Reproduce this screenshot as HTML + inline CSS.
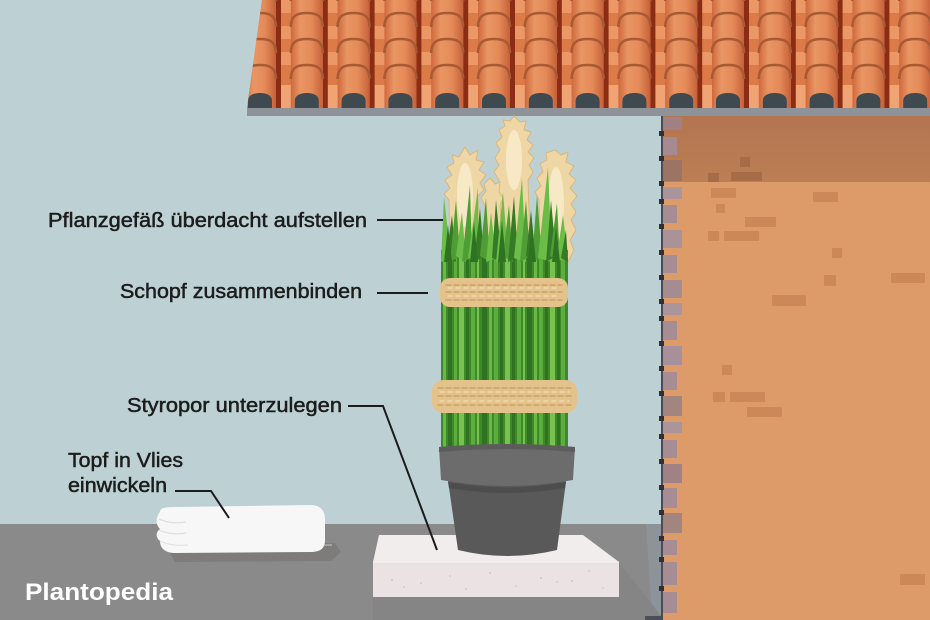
<!DOCTYPE html>
<html>
<head>
<meta charset="utf-8">
<style>
html,body{margin:0;padding:0;background:#bdd1d5;}
svg{display:block;}
.lbl{font-family:"Liberation Sans",Arial,sans-serif;font-size:20px;fill:#1c1c1c;stroke:#1c1c1c;stroke-width:0.5px;}
</style>
</head>
<body>
<svg width="930" height="620" viewBox="0 0 930 620" xmlns="http://www.w3.org/2000/svg">
<defs>
  <linearGradient id="capg" x1="0" y1="0" x2="1" y2="0">
    <stop offset="0" stop-color="#cf693d"/>
    <stop offset="0.3" stop-color="#e99664"/>
    <stop offset="0.65" stop-color="#e48a58"/>
    <stop offset="1" stop-color="#c6613a"/>
  </linearGradient>
  <linearGradient id="bandg" x1="0" y1="0" x2="0" y2="1">
    <stop offset="0" stop-color="#b37550"/>
    <stop offset="1" stop-color="#bc7e54"/>
  </linearGradient>
  <clipPath id="roofclip"><polygon points="262,0 930,0 930,108 247,108"/></clipPath>
  <g id="col">
    <rect x="16" y="-13" width="15" height="13" fill="#dc7b48"/>
    <rect x="16" y="0" width="15" height="13" fill="#eb9866"/>
    <rect x="16" y="13" width="15" height="13" fill="#dc7b48"/>
    <rect x="16" y="26" width="15" height="13" fill="#eb9866"/>
    <rect x="16" y="39" width="15" height="13" fill="#dc7b48"/>
    <rect x="16" y="52" width="15" height="13" fill="#eb9866"/>
    <rect x="16" y="65" width="15" height="20" fill="#dc7b48"/>
    <rect x="16" y="85" width="15" height="23" fill="#f0a474"/>
    <rect x="16" y="-13" width="5" height="121" fill="#8a2d14"/>
    <path d="M-16,1 C-16,-11 -9,-13 0,-13 C9,-13 16,-11 16,1 L16,32 L-16,32 Z" fill="url(#capg)"/>
    <path d="M-16,1 C-16,-11 -9,-13 0,-13 C9,-13 16,-11 16,1" fill="none" stroke="#a85a34" stroke-width="2.5"/>
    <path d="M-16,27 C-16,15 -9,13 0,13 C9,13 16,15 16,27 L16,58 L-16,58 Z" fill="url(#capg)"/>
    <path d="M-16,27 C-16,15 -9,13 0,13 C9,13 16,15 16,27" fill="none" stroke="#a85a34" stroke-width="2.5"/>
    <path d="M-16,53 C-16,41 -9,39 0,39 C9,39 16,41 16,53 L16,84 L-16,84 Z" fill="url(#capg)"/>
    <path d="M-16,53 C-16,41 -9,39 0,39 C9,39 16,41 16,53" fill="none" stroke="#a85a34" stroke-width="2.5"/>
    <path d="M-16,79 C-16,67 -9,65 0,65 C9,65 16,67 16,79 L16,108 L-16,108 Z" fill="url(#capg)"/>
    <path d="M-16,79 C-16,67 -9,65 0,65 C9,65 16,67 16,79" fill="none" stroke="#a85a34" stroke-width="2.5"/>
    <path d="M-12,108 L-12,101 C-12,95 -6,93 0,93 C6,93 12,95 12,101 L12,108 Z" fill="#3e4950"/>
  </g>
</defs>

<!-- background -->
<rect width="930" height="620" fill="#bdd1d5"/>
<!-- floor -->
<rect x="0" y="524" width="662" height="96" fill="#8a8a8a"/>
<polygon points="646,524 662,524 662,617 652,617" fill="#8d9499"/>
<polygon points="619,562 662,617 662,620 373,620 373,597 619,597" fill="#858585"/>
<rect x="645" y="616" width="17" height="4" fill="#4a4f5a"/>

<!-- roof -->
<g clip-path="url(#roofclip)">
  <rect x="240" y="0" width="690" height="108" fill="#d9794a"/>
  <use href="#col" transform="translate(213.2,0)"/>
  <use href="#col" transform="translate(260,0)"/>
  <use href="#col" transform="translate(306.8,0)"/>
  <use href="#col" transform="translate(353.6,0)"/>
  <use href="#col" transform="translate(400.4,0)"/>
  <use href="#col" transform="translate(447.2,0)"/>
  <use href="#col" transform="translate(494,0)"/>
  <use href="#col" transform="translate(540.8,0)"/>
  <use href="#col" transform="translate(587.6,0)"/>
  <use href="#col" transform="translate(634.4,0)"/>
  <use href="#col" transform="translate(681.2,0)"/>
  <use href="#col" transform="translate(728,0)"/>
  <use href="#col" transform="translate(774.8,0)"/>
  <use href="#col" transform="translate(821.6,0)"/>
  <use href="#col" transform="translate(868.4,0)"/>
  <use href="#col" transform="translate(915.2,0)"/>
</g>
<rect x="247" y="108" width="683" height="8" fill="#8d9398"/>

<!-- wall -->
<rect x="662" y="116" width="268" height="504" fill="#dc9b68"/>
<rect x="662" y="116" width="268" height="66" fill="url(#bandg)"/>
<g fill="#a66c47">
  <rect x="740" y="157" width="10" height="10"/>
  <rect x="708" y="173" width="11" height="9"/>
  <rect x="731" y="172" width="31" height="9"/>
</g>
<g fill="#cc8859">
  <rect x="711" y="188" width="25" height="10"/>
  <rect x="813" y="192" width="25" height="10"/>
  <rect x="716" y="204" width="9" height="9"/>
  <rect x="745" y="217" width="31" height="10"/>
  <rect x="708" y="231" width="11" height="10"/>
  <rect x="724" y="231" width="35" height="10"/>
  <rect x="832" y="248" width="10" height="10"/>
  <rect x="824" y="275" width="12" height="11"/>
  <rect x="891" y="273" width="34" height="10"/>
  <rect x="772" y="295" width="34" height="11"/>
  <rect x="722" y="365" width="10" height="10"/>
  <rect x="713" y="392" width="12" height="10"/>
  <rect x="730" y="392" width="35" height="10"/>
  <rect x="747" y="407" width="35" height="10"/>
  <rect x="900" y="574" width="25" height="11"/>
</g>
<!-- wall edge stones -->
<g>
  <rect x="663" y="117" width="19" height="13" fill="#a08082"/>
  <rect x="663" y="137" width="14" height="18" fill="#a68a8f"/>
  <rect x="663" y="160" width="19" height="21" fill="#9c7464"/>
  <rect x="663" y="187" width="19" height="12" fill="#a9959a"/>
  <rect x="663" y="205" width="14" height="18" fill="#a68d93"/>
  <rect x="663" y="230" width="19" height="18" fill="#a99399"/>
  <rect x="663" y="255" width="14" height="18" fill="#a68d93"/>
  <rect x="663" y="280" width="19" height="18" fill="#a48c91"/>
  <rect x="663" y="303" width="19" height="12" fill="#a9959a"/>
  <rect x="663" y="321" width="14" height="19" fill="#a68d93"/>
  <rect x="663" y="346" width="19" height="19" fill="#a8909a"/>
  <rect x="663" y="372" width="14" height="18" fill="#a68d93"/>
  <rect x="663" y="396" width="19" height="20" fill="#a2857f"/>
  <rect x="663" y="422" width="19" height="11" fill="#a9959a"/>
  <rect x="663" y="440" width="14" height="18" fill="#a68d93"/>
  <rect x="663" y="464" width="19" height="19" fill="#a08286"/>
  <rect x="663" y="488" width="14" height="20" fill="#a68d93"/>
  <rect x="663" y="513" width="19" height="20" fill="#a2857f"/>
  <rect x="663" y="540" width="14" height="15" fill="#a68d93"/>
  <rect x="663" y="562" width="14" height="23" fill="#a68d93"/>
  <rect x="663" y="592" width="14" height="21" fill="#a68d93"/>
</g>
<rect x="661" y="116" width="2" height="504" fill="#4b4b55"/>
<g fill="#2f2f35">
  <rect x="659" y="131" width="5" height="5"/><rect x="659" y="156" width="5" height="5"/>
  <rect x="659" y="181" width="5" height="5"/><rect x="659" y="199" width="5" height="5"/>
  <rect x="659" y="224" width="5" height="5"/><rect x="659" y="250" width="5" height="5"/>
  <rect x="659" y="275" width="5" height="5"/><rect x="659" y="299" width="5" height="5"/>
  <rect x="659" y="316" width="5" height="5"/><rect x="659" y="341" width="5" height="5"/>
  <rect x="659" y="366" width="5" height="5"/><rect x="659" y="391" width="5" height="5"/>
  <rect x="659" y="416" width="5" height="5"/><rect x="659" y="434" width="5" height="5"/>
  <rect x="659" y="459" width="5" height="5"/><rect x="659" y="485" width="5" height="5"/>
  <rect x="659" y="510" width="5" height="5"/><rect x="659" y="536" width="5" height="5"/>
  <rect x="659" y="557" width="5" height="5"/><rect x="659" y="586" width="5" height="5"/>
</g>

<!-- styrofoam -->
<polygon points="379,535 583,535 619,562 373,562" fill="#f1eded"/>
<rect x="373" y="562" width="246" height="35" fill="#ebe3e3"/>
<line x1="373" y1="562" x2="619" y2="562" stroke="#f6f3f3" stroke-width="1"/>
<g fill="#c9bfbf">
  <circle cx="392" cy="580" r="0.9"/><circle cx="404" cy="587" r="0.8"/><circle cx="421" cy="583" r="0.9"/>
  <circle cx="466" cy="589" r="0.8"/><circle cx="490" cy="573" r="0.9"/><circle cx="516" cy="586" r="0.8"/>
  <circle cx="541" cy="578" r="0.9"/><circle cx="557" cy="582" r="0.8"/><circle cx="572" cy="581" r="0.9"/>
  <circle cx="589" cy="571" r="0.8"/><circle cx="603" cy="588" r="0.8"/><circle cx="450" cy="576" r="0.8"/>
</g>

<!-- towel -->
<path d="M165,545 L335,543 L341,552 L331,561 L175,562 Z" fill="#7e7c7b"/>
<line x1="172" y1="547" x2="332" y2="545" stroke="#a9a199" stroke-width="2"/>
<path d="M160,512 C160,507 168,507 178,507 L310,505 C320,505 325,510 325,520 L325,540 C325,549 320,552 310,552 L175,553 C165,553 160,548 160,541 C155,537 156,532 160,529 C155,524 156,517 160,512 Z" fill="#f7f7f7"/>
<path d="M159,519 C165,522 175,524 186,522" fill="none" stroke="#dedede" stroke-width="1.2"/>
<path d="M159,530 C165,533 175,535 186,533" fill="none" stroke="#dedede" stroke-width="1.2"/>
<path d="M160,541 C166,544 176,546 188,545" fill="none" stroke="#e2e2e2" stroke-width="1.2"/>

<!-- plumes -->
<g fill="#efd7a5" stroke="#d9b77d" stroke-width="1">
  <polygon points="514,116 520,122 526,121 524,130 531,132 527,140 533,145 528,152 534,158 529,165 533,172 528,180 530,240 498,240 499,180 494,172 499,165 495,158 500,150 496,143 502,137 499,130 505,126 503,120 510,121"/>
  <polygon points="465,147 470,155 478,150 476,160 484,162 479,170 486,175 480,183 484,190 478,196 480,260 450,260 449,200 444,194 450,188 445,180 452,175 447,167 454,163 452,155 459,157"/>
  <polygon points="555,150 561,155 568,152 566,162 574,166 569,174 576,180 570,188 577,196 571,204 576,212 571,220 576,230 570,240 574,250 568,262 565,272 540,272 539,200 535,192 541,186 537,178 543,172 540,164 547,160 546,153"/>
  <polygon points="490,178 495,184 500,182 499,192 503,198 500,206 502,240 484,240 485,206 481,198 486,191 484,184"/>
</g>
<g fill="#f7e8c6">
  <ellipse cx="514" cy="160" rx="8" ry="30"/>
  <ellipse cx="465" cy="195" rx="8" ry="32"/>
  <ellipse cx="556" cy="205" rx="8" ry="38"/>
</g>

<!-- grass body -->
<rect x="441" y="250" width="127" height="212" fill="#3e8a2b"/>
<g>
  <rect x="443" y="250" width="3" height="212" fill="#6cb845"/>
  <rect x="448" y="250" width="4" height="212" fill="#2f7322"/>
  <rect x="454" y="250" width="3" height="212" fill="#5cad3c"/>
  <rect x="459" y="250" width="5" height="212" fill="#79c24f"/>
  <rect x="466" y="250" width="3" height="212" fill="#2f7322"/>
  <rect x="471" y="250" width="4" height="212" fill="#5cad3c"/>
  <rect x="477" y="250" width="2" height="212" fill="#79c24f"/>
  <rect x="482" y="250" width="5" height="212" fill="#2f7322"/>
  <rect x="489" y="250" width="3" height="212" fill="#6cb845"/>
  <rect x="494" y="250" width="4" height="212" fill="#5cad3c"/>
  <rect x="500" y="250" width="3" height="212" fill="#2f7322"/>
  <rect x="505" y="250" width="5" height="212" fill="#79c24f"/>
  <rect x="512" y="250" width="3" height="212" fill="#2f7322"/>
  <rect x="517" y="250" width="4" height="212" fill="#5cad3c"/>
  <rect x="523" y="250" width="2" height="212" fill="#79c24f"/>
  <rect x="527" y="250" width="5" height="212" fill="#2f7322"/>
  <rect x="534" y="250" width="3" height="212" fill="#6cb845"/>
  <rect x="539" y="250" width="4" height="212" fill="#5cad3c"/>
  <rect x="545" y="250" width="3" height="212" fill="#2f7322"/>
  <rect x="550" y="250" width="5" height="212" fill="#79c24f"/>
  <rect x="557" y="250" width="3" height="212" fill="#2f7322"/>
  <rect x="561" y="250" width="4" height="212" fill="#5cad3c"/>
</g>
<!-- blade tips -->
<g>
  <polygon points="441,262 451,258 444,197" fill="#6cbd48"/>
  <polygon points="446,258 456,262 452,215" fill="#357a25"/>
  <polygon points="450,262 460,256 456,200" fill="#4f9e35"/>
  <polygon points="456,256 466,262 462,212" fill="#6cbd48"/>
  <polygon points="462,262 472,258 470,185" fill="#4f9e35"/>
  <polygon points="468,258 478,262 478,188" fill="#6cbd48"/>
  <polygon points="474,262 484,256 480,208" fill="#357a25"/>
  <polygon points="480,256 490,262 486,198" fill="#4f9e35"/>
  <polygon points="486,262 496,258 491,212" fill="#6cbd48"/>
  <polygon points="492,258 502,262 496,200" fill="#357a25"/>
  <polygon points="496,262 508,256 503,192" fill="#6cbd48"/>
  <polygon points="503,256 513,262 509,205" fill="#4f9e35"/>
  <polygon points="508,262 518,258 514,196" fill="#357a25"/>
  <polygon points="514,258 526,262 522,178" fill="#6cbd48"/>
  <polygon points="520,262 530,256 526,200" fill="#4f9e35"/>
  <polygon points="526,256 536,262 531,210" fill="#357a25"/>
  <polygon points="532,262 542,258 537,195" fill="#4f9e35"/>
  <polygon points="538,258 552,262 548,167" fill="#6cbd48"/>
  <polygon points="546,262 556,256 551,200" fill="#357a25"/>
  <polygon points="550,256 560,262 557,203" fill="#4f9e35"/>
  <polygon points="556,262 568,258 563,215" fill="#6cbd48"/>
  <polygon points="561,258 568,262 566,230" fill="#357a25"/>
  <polygon points="444,262 452,262 448,225" fill="#2f7322"/>
  <polygon points="470,262 478,262 474,222" fill="#2f7322"/>
  <polygon points="498,262 506,262 502,220" fill="#2f7322"/>
  <polygon points="528,262 536,262 532,224" fill="#2f7322"/>
  <polygon points="552,262 560,262 556,226" fill="#2f7322"/>
</g>

<!-- rope 1 -->
<rect x="440" y="278" width="128" height="29" rx="10" fill="#e4c28c"/>
<g fill="none" stroke-linecap="round">
  <line x1="446" y1="285" x2="562" y2="285" stroke="#c9a167" stroke-width="1.5" stroke-dasharray="5 3"/>
  <line x1="446" y1="292" x2="562" y2="292" stroke="#c9a167" stroke-width="1.5" stroke-dasharray="5 3"/>
  <line x1="446" y1="300" x2="562" y2="300" stroke="#c9a167" stroke-width="1.5" stroke-dasharray="5 3"/>
  <line x1="448" y1="288" x2="560" y2="288" stroke="#f3ddb2" stroke-width="1.2" stroke-dasharray="4 4"/>
  <line x1="448" y1="296" x2="560" y2="296" stroke="#f3ddb2" stroke-width="1.2" stroke-dasharray="4 4"/>
</g>
<!-- rope 2 -->
<rect x="432" y="380" width="145" height="33" rx="11" fill="#e4c28c"/>
<g fill="none" stroke-linecap="round">
  <line x1="438" y1="388" x2="571" y2="388" stroke="#c9a167" stroke-width="1.5" stroke-dasharray="5 3"/>
  <line x1="438" y1="396" x2="571" y2="396" stroke="#c9a167" stroke-width="1.5" stroke-dasharray="5 3"/>
  <line x1="438" y1="405" x2="571" y2="405" stroke="#c9a167" stroke-width="1.5" stroke-dasharray="5 3"/>
  <line x1="440" y1="392" x2="569" y2="392" stroke="#f3ddb2" stroke-width="1.2" stroke-dasharray="4 4"/>
  <line x1="440" y1="401" x2="569" y2="401" stroke="#f3ddb2" stroke-width="1.2" stroke-dasharray="4 4"/>
</g>

<!-- pot -->
<path d="M447,474 L567,474 L557,550 Q507,562 458,550 Z" fill="#595959"/>
<path d="M439,447 Q507,441 575,447 L573,480 Q507,492 441,480 Z" fill="#6c6c6c"/>
<path d="M448,482 Q507,493 566,482 L565,488 Q507,498 449,488 Z" fill="#4d4d4d"/>
<path d="M439,447 Q507,441 575,447 L575,452 Q507,446 439,452 Z" fill="#5c5c5c"/>

<!-- connector lines -->
<g stroke="#1c1c1c" stroke-width="2" fill="none">
  <line x1="377" y1="220" x2="443" y2="220"/>
  <line x1="377" y1="293" x2="428" y2="293"/>
  <polyline points="348,406 383,406 437,550"/>
  <polyline points="175,491 211,491 229,518"/>
</g>

<!-- labels -->
<text class="lbl" x="48" y="227" textLength="319" lengthAdjust="spacingAndGlyphs">Pflanzgefäß überdacht aufstellen</text>
<text class="lbl" x="120" y="298" textLength="242" lengthAdjust="spacingAndGlyphs">Schopf zusammenbinden</text>
<text class="lbl" x="127" y="412" textLength="215" lengthAdjust="spacingAndGlyphs">Styropor unterzulegen</text>
<text class="lbl" x="68" y="467" textLength="115" lengthAdjust="spacingAndGlyphs">Topf in Vlies</text>
<text class="lbl" x="68" y="492" textLength="99" lengthAdjust="spacingAndGlyphs">einwickeln</text>
<text x="25" y="600" font-family="Liberation Sans, Arial, sans-serif" font-size="24" font-weight="bold" fill="#ffffff" textLength="148" lengthAdjust="spacingAndGlyphs">Plantopedia</text>
</svg>
</body>
</html>
